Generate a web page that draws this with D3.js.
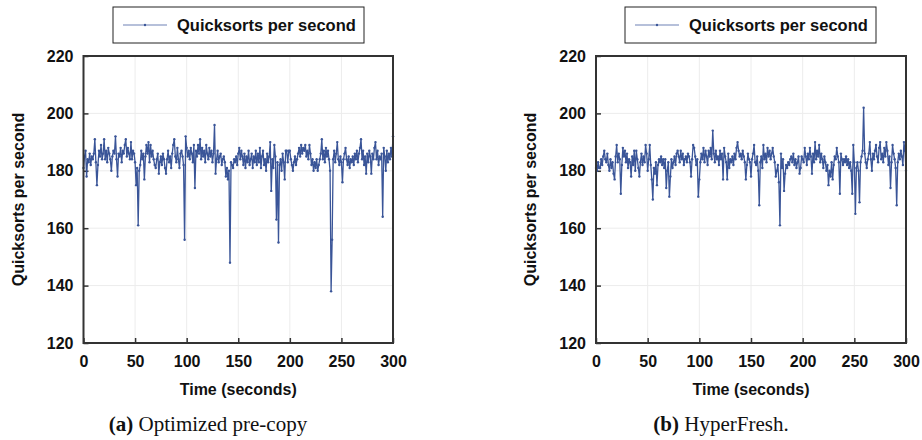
<!DOCTYPE html>
<html>
<head>
<meta charset="utf-8">
<script src="https://cdn.jsdelivr.net/npm/d3@7"></script>
<style>
  body { margin: 0; background: #fff; }
  svg { display: block; }
</style>
</head>
<body>
<script>
// chart size
const width = 922;
const height = 440;

// tick labels
const xTicks = [0, 50, 100, 150, 200, 250, 300];
const yTicks = [120, 140, 160, 180, 200, 220];

// one sample per second
const seconds = d3.range(0, 301);

// (a) optimized pre-copy
const precopy = [
  181, 185, 187, 178, 184, 183, 186, 182, 185, 184,
  186, 191, 183, 175, 182, 187, 185, 189, 184, 186,
  191, 184, 187, 183, 188, 186, 184, 180, 185, 187,
  186, 192, 184, 178, 186, 185, 188, 183, 187, 186,
  189, 191, 185, 188, 186, 184, 190, 184, 187, 186,
  183, 175, 181, 161, 180, 182, 187, 184, 186, 177,
  185, 189, 186, 190, 183, 189, 185, 187, 184, 182,
  181, 184, 186, 179, 183, 185, 182, 186, 184, 181,
  179, 184, 187, 183, 185, 181, 186, 189, 191, 185,
  183, 188, 184, 181, 186, 187, 185, 182, 156, 192,
  188, 185, 187, 184, 188, 186, 183, 189, 174, 187,
  185, 189, 186, 191, 184, 188, 185, 187, 183, 189,
  186, 184, 188, 185, 187, 183, 186, 196, 179, 184,
  187, 183, 185, 186, 182, 184, 185, 183, 178, 181,
  177, 180, 148, 183, 182, 181, 184, 183, 185, 182,
  186, 188, 184, 187, 185, 182, 186, 181, 185, 183,
  187, 182, 184, 186, 181, 185, 183, 187, 182, 186,
  183, 188, 181, 185, 187, 182, 184, 180, 186, 183,
  185, 190, 173, 184, 181, 189, 185, 163, 183, 155,
  182, 184, 180, 186, 183, 177, 187, 187, 183, 187,
  187, 184, 182, 180, 183, 185, 182, 184, 186, 188,
  185, 189, 186, 188, 187, 189, 185, 187, 184, 189,
  186, 182, 184, 180, 183, 181, 184, 180, 182, 184,
  186, 191, 184, 187, 183, 188, 185, 187, 184, 180,
  138, 156, 184, 187, 183, 186, 190, 184, 182, 185,
  183, 176, 184, 186, 188, 184, 182, 185, 181, 184,
  183, 185, 182, 186, 184, 187, 183, 186, 188, 191,
  184, 187, 182, 185, 179, 186, 183, 187, 185, 179,
  186, 184, 188, 190, 184, 187, 182, 185, 184, 186,
  164, 188, 185, 180, 187, 183, 186, 184, 188, 185,
  192
];

// (b) HyperFresh
const hyperfresh = [
  181, 180, 183, 181, 181, 184, 182, 185, 187, 184,
  183, 186, 182, 180, 184, 181, 183, 179, 177, 185,
  189, 183, 186, 184, 172, 182, 188, 185, 187, 183,
  186, 181, 184, 183, 178, 185, 182, 187, 180, 187,
  184, 181, 178, 183, 186, 182, 185, 183, 189, 186,
  180, 184, 189, 182, 177, 170, 181, 179, 183, 175,
  182, 184, 183, 185, 182, 184, 181, 184, 174, 180,
  183, 171, 178, 184, 181, 183, 185, 182, 186, 187,
  185, 183, 187, 184, 186, 182, 184, 185, 183, 186,
  185, 183, 178, 184, 189, 188, 185, 182, 184, 171,
  177, 183, 186, 184, 188, 183, 187, 185, 182, 187,
  185, 188, 184, 194, 186, 183, 187, 184, 185, 182,
  187, 184, 186, 177, 188, 185, 183, 177, 186, 181,
  184, 183, 185, 182, 186, 184, 188, 190, 187, 185,
  186, 184, 187, 185, 183, 177, 182, 186, 184, 183,
  178, 184, 186, 189, 183, 182, 185, 180, 168, 183,
  185, 181, 189, 184, 186, 183, 188, 185, 187, 184,
  186, 188, 185, 183, 178, 180, 182, 176, 161, 186,
  181, 184, 173, 179, 182, 181, 183, 182, 184, 185,
  183, 186, 182, 184, 181, 183, 185, 179, 181, 185,
  184, 183, 188, 185, 182, 186, 184, 188, 185, 179,
  186, 183, 190, 184, 187, 185, 189, 183, 186, 184,
  181, 185, 183, 180, 182, 175, 180, 178, 183, 177,
  182, 185, 184, 188, 185, 183, 172, 186, 184, 182,
  184, 183, 185, 182, 184, 181, 183, 180, 172, 189,
  183, 165, 181, 183, 180, 169, 183, 185, 187, 202,
  186, 183, 181, 184, 186, 190, 184, 180, 186, 184,
  187, 189, 185, 183, 188, 190, 184, 186, 183, 188,
  185, 190, 187, 182, 185, 174, 183, 189, 186, 184,
  181, 168, 183, 186, 184, 187, 185, 182, 190, 187,
  180
];

const seriesName = 'Quicksorts per second';
const xTitle = 'Time (seconds)';
const yTitle = 'Quicksorts per second';

const lineColor = '#3a5598';
const axisColor = '#333';
const sans = '"Liberation Sans", Arial, sans-serif';
const serif = '"Liberation Serif", "Times New Roman", serif';

let svg = d3.select('body')
  .append('svg')
  .attr('width', width)
  .attr('height', height);

function drawPanel(opts) {
  let left = opts.left, right = opts.right;
  let top = 56, bottom = 343;

  let x = d3.scaleLinear().domain([0, 300]).range([left, right]);
  let y = d3.scaleLinear().domain([120, 220]).range([bottom, top]);

  let g = svg.append('g');

  // grid
  g.append('g')
    .selectAll('line')
    .data(xTicks.slice(1, -1))
    .join('line')
    .attr('x1', d => x(d)).attr('x2', d => x(d))
    .attr('y1', top).attr('y2', bottom)
    .attr('stroke', '#ececec').attr('stroke-width', 1);
  g.append('g')
    .selectAll('line')
    .data(yTicks.slice(1, -1))
    .join('line')
    .attr('x1', left).attr('x2', right)
    .attr('y1', d => y(d)).attr('y2', d => y(d))
    .attr('stroke', '#ececec').attr('stroke-width', 1);

  // axes with inward ticks
  let xAxis = g.append('g')
    .attr('transform', `translate(0,${bottom})`)
    .call(d3.axisBottom(x).tickValues(xTicks).tickSize(-5).tickPadding(12).tickSizeOuter(0));
  let yAxis = g.append('g')
    .attr('transform', `translate(${left},0)`)
    .call(d3.axisLeft(y).tickValues(yTicks).tickSize(-5).tickPadding(10).tickSizeOuter(0));

  [xAxis, yAxis].forEach(a => {
    a.select('.domain').remove();
    a.selectAll('.tick line').attr('stroke', axisColor).attr('stroke-width', 1.5);
    a.selectAll('.tick text')
      .attr('fill', '#111')
      .attr('font-family', sans)
      .attr('font-weight', 'bold')
      .attr('font-size', 16);
  });
  xAxis.selectAll('.tick text').attr('dy', '0.75em');

  // the line and its markers
  let line = d3.line()
    .x((d, i) => x(seconds[i]))
    .y(d => y(d));

  g.append('path')
    .datum(opts.values)
    .attr('fill', 'none')
    .attr('stroke', lineColor)
    .attr('stroke-width', 1.3)
    .attr('stroke-linejoin', 'round')
    .attr('d', line);

  g.append('g')
    .selectAll('circle')
    .data(opts.values)
    .join('circle')
    .attr('cx', (d, i) => x(seconds[i]))
    .attr('cy', d => y(d))
    .attr('r', 1.2)
    .attr('fill', lineColor);

  // frame
  g.append('rect')
    .attr('x', left).attr('y', top)
    .attr('width', right - left).attr('height', bottom - top)
    .attr('fill', 'none')
    .attr('stroke', axisColor)
    .attr('stroke-width', 2);

  // axis titles
  g.append('text')
    .attr('x', (left + right) / 2)
    .attr('y', 395)
    .attr('text-anchor', 'middle')
    .attr('font-family', sans).attr('font-weight', 'bold').attr('font-size', 16)
    .attr('fill', '#111')
    .text(xTitle);

  g.append('text')
    .attr('transform', `translate(${left - 60},${(top + bottom) / 2}) rotate(-90)`)
    .attr('text-anchor', 'middle')
    .attr('font-family', sans).attr('font-weight', 'bold').attr('font-size', 16)
    .attr('fill', '#111')
    .text(yTitle);

  // legend
  let lg = g.append('g').attr('transform', `translate(${opts.legendX},7)`);
  lg.append('rect')
    .attr('width', 251).attr('height', 36)
    .attr('fill', '#fff').attr('stroke', '#222').attr('stroke-width', 1);
  lg.append('line')
    .attr('x1', 10).attr('x2', 54).attr('y1', 18).attr('y2', 18)
    .attr('stroke', '#6f82b5').attr('stroke-width', 1.2);
  lg.append('circle')
    .attr('cx', 32).attr('cy', 18).attr('r', 1.2).attr('fill', lineColor);
  lg.append('text')
    .attr('x', 64).attr('y', 24)
    .attr('font-family', sans).attr('font-weight', 'bold').attr('font-size', 16.5)
    .attr('fill', '#111')
    .text(seriesName);

  // caption
  let cap = g.append('text')
    .attr('x', opts.captionX)
    .attr('y', 431)
    .attr('text-anchor', 'middle')
    .attr('font-family', serif).attr('font-size', 21)
    .attr('fill', '#111');
  cap.append('tspan').attr('font-weight', 'bold').text(opts.tag);
  cap.append('tspan').text(' ' + opts.caption);
}

drawPanel({ left: 83.5, right: 393, values: precopy, legendX: 113,
  captionX: 208, tag: '(a)', caption: 'Optimized pre-copy' });
drawPanel({ left: 596, right: 906, values: hyperfresh, legendX: 625,
  captionX: 721, tag: '(b)', caption: 'HyperFresh.' });
</script>
</body>
</html>
